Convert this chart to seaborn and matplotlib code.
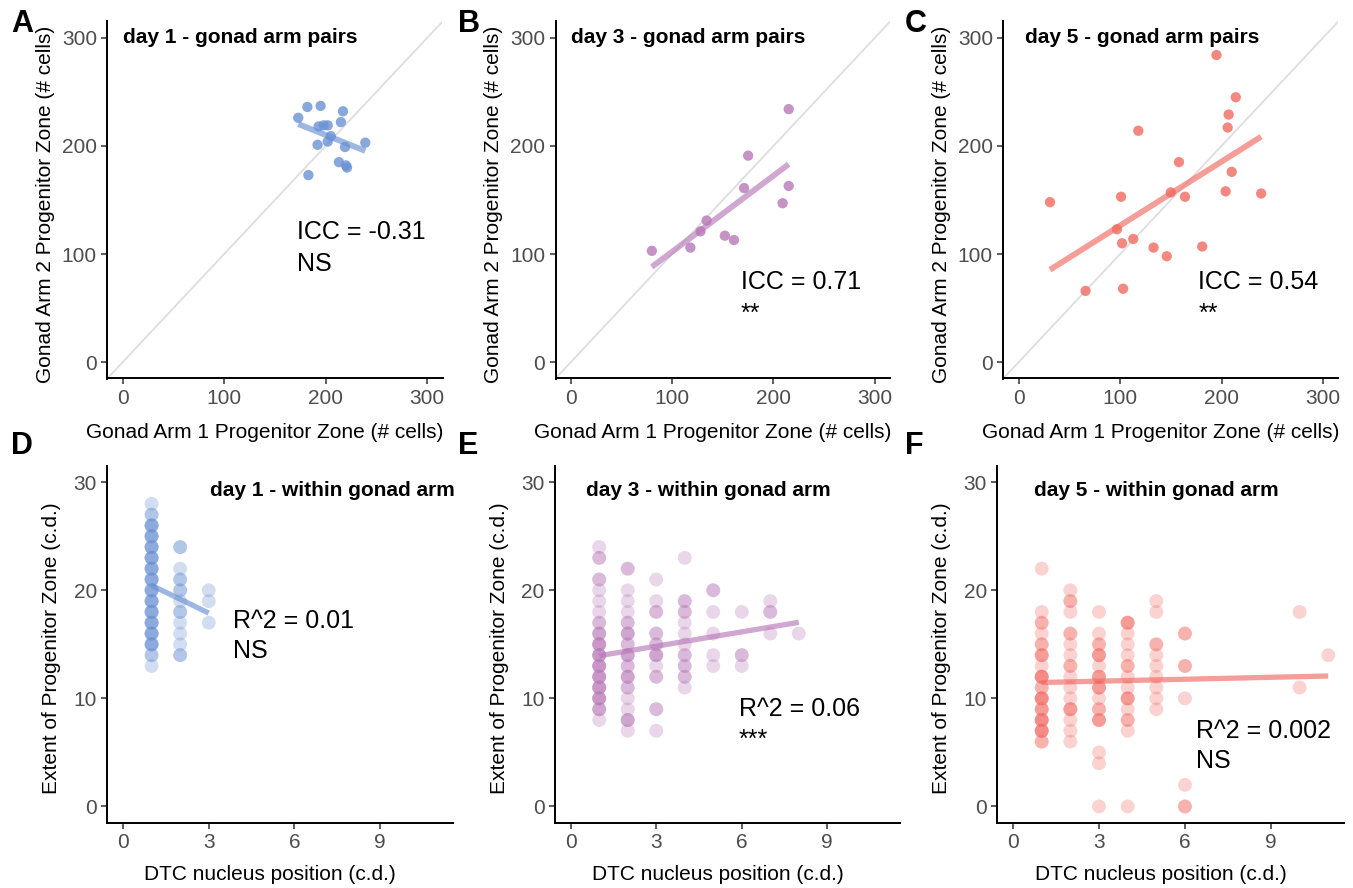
import numpy as np
import pandas as pd
import matplotlib
matplotlib.use("Agg")
import matplotlib.pyplot as plt
import seaborn as sns

sns.set_style("ticks")
plt.rcParams["font.family"] = ["Liberation Sans", "DejaVu Sans"]
plt.rcParams["text.color"] = "black"
plt.rcParams["axes.labelcolor"] = "black"

# ---- A-C: progenitor zone size, gonad arm 1 vs arm 2 (# cells)
d1_arm1 = [173, 182, 195, 217, 215, 193, 198, 202, 205, 192, 202, 219, 239, 213, 220, 221, 183]
d1_arm2 = [226, 236, 237, 232, 222, 218, 219, 219, 209, 201, 204, 199, 203, 185, 182, 180, 173]
d3_arm1 = [80, 118, 128, 134, 152, 161, 171, 175, 209, 215, 215]
d3_arm2 = [103, 106, 121, 131, 117, 113, 161, 191, 147, 163, 234]
d5_arm1 = [195, 214, 207, 206, 118, 158, 210, 31, 101, 150, 164, 204, 239, 97, 113, 102, 133, 146, 181, 66, 103]
d5_arm2 = [284, 245, 229, 217, 214, 185, 176, 148, 153, 157, 153, 158, 156, 123, 114, 110, 106, 98, 107, 66, 68]

# ---- D-F: DTC nucleus position vs extent of progenitor zone (c.d.), n = number of gonads
d1_pos = [1, 1, 1, 1, 1, 1, 1, 1, 1, 1, 1, 1, 1, 1, 1, 1,
          2, 2, 2, 2, 2, 2, 2, 2, 2, 2, 3, 3, 3]
d1_pz = [28, 27, 26, 25, 24, 23, 22, 21, 20, 19, 18, 17, 16, 15, 14, 13,
         24, 22, 21, 20, 19, 18, 17, 16, 15, 14, 20, 19, 17]
d1_n = [1, 2, 4, 4, 4, 4, 4, 4, 4, 4, 4, 4, 4, 4, 2, 1,
        2, 1, 2, 2, 1, 2, 1, 1, 1, 2, 1, 1, 1]

d3_pos = [1, 1, 1, 1, 1, 1, 1, 1, 1, 1, 1, 1, 1, 1, 1, 1,
          2, 2, 2, 2, 2, 2, 2, 2, 2, 2, 2, 2, 2, 2, 2,
          3, 3, 3, 3, 3, 3, 3, 3, 3, 3,
          4, 4, 4, 4, 4, 4, 4, 4, 4, 4,
          5, 5, 5, 5, 5, 6, 6, 6, 7, 7, 7, 8]
d3_pz = [24, 23, 21, 20, 19, 18, 17, 16, 15, 14, 13, 12, 11, 10, 9, 8,
         22, 20, 19, 18, 17, 16, 15, 14, 13, 12, 11, 10, 9, 8, 7,
         21, 19, 18, 16, 15, 14, 13, 12, 9, 7,
         23, 19, 18, 17, 16, 15, 14, 13, 12, 11,
         20, 18, 16, 14, 13, 18, 14, 13, 19, 18, 16, 16]
d3_n = [1, 2, 2, 1, 1, 1, 2, 3, 4, 4, 4, 4, 4, 4, 3, 1,
        2, 1, 1, 1, 2, 3, 2, 3, 2, 3, 2, 1, 1, 3, 1,
        1, 1, 2, 2, 2, 3, 1, 2, 2, 1,
        1, 2, 2, 1, 1, 1, 2, 2, 2, 1,
        2, 1, 1, 1, 1, 1, 2, 1, 1, 2, 1, 1]

d5_pos = [1, 1, 1, 1, 1, 1, 1, 1, 1, 1, 1, 1, 1, 1,
          2, 2, 2, 2, 2, 2, 2, 2, 2, 2, 2, 2, 2, 2,
          3, 3, 3, 3, 3, 3, 3, 3, 3, 3, 3, 3, 3,
          4, 4, 4, 4, 4, 4, 4, 4, 4, 4, 4, 4,
          5, 5, 5, 5, 5, 5, 5, 5, 5,
          6, 6, 6, 6, 6, 10, 10, 11]
d5_pz = [22, 18, 17, 16, 15, 14, 13, 12, 11, 10, 9, 8, 7, 6,
         20, 19, 18, 16, 15, 14, 13, 12, 11, 10, 9, 8, 7, 6,
         18, 16, 15, 14, 13, 12, 11, 10, 9, 8, 5, 4, 0,
         17, 16, 15, 14, 13, 12, 11, 10, 9, 8, 7, 0,
         19, 18, 15, 14, 13, 12, 11, 10, 9,
         16, 13, 10, 2, 0, 18, 11, 14]
d5_n = [1, 1, 2, 1, 2, 3, 1, 4, 2, 4, 3, 4, 4, 2,
        1, 2, 1, 2, 1, 1, 2, 1, 1, 1, 3, 1, 1, 1,
        1, 1, 2, 3, 1, 3, 3, 1, 2, 3, 1, 1, 1,
        3, 1, 1, 1, 2, 1, 1, 3, 1, 2, 1, 1,
        1, 1, 2, 1, 1, 1, 1, 1, 1,
        2, 2, 1, 1, 2, 1, 1, 1]

day_colors = ["#6A91D3", "#B878B8", "#F16A62"]

pair_titles = ["day 1 - gonad arm pairs", "day 3 - gonad arm pairs", "day 5 - gonad arm pairs"]
pair_stats = [("ICC = -0.31", "NS"), ("ICC = 0.71", "**"), ("ICC = 0.54", "**")]
arm_titles = ["day 1 - within gonad arm", "day 3 - within gonad arm", "day 5 - within gonad arm"]
arm_stats = [("R^2 = 0.01", "NS"), ("R^2 = 0.06", "***"), ("R^2 = 0.002", "NS")]

W, H = 1353, 888
fig = plt.figure(figsize=(W / 100, H / 100), dpi=100)


def box(l, r, t, b):
    return [l / W, 1 - b / H, (r - l) / W, (b - t) / H]


def style(ax, w_px, h_px):
    sns.despine(ax=ax)
    for s in ["left", "bottom"]:
        ax.spines[s].set_linewidth(1.4)
        ax.spines[s].set_color("black")
    ax.tick_params(length=4, width=1.1, color="#333333", labelcolor="#4D4D4D",
                   labelsize=15, pad=3.5)
    # axis titles sit a little left / lower than the panel centre
    ax.xaxis.label.set_x(0.5 - 10 / w_px)
    ax.yaxis.label.set_y(0.5 - 4 / h_px)


top_boxes = [box(107.3, 442.5, 21.5, 378.5), box(555.5, 890.1, 21.5, 378.5),
             box(1003.3, 1338.3, 21.5, 378.5)]
bot_boxes = [box(107.3, 453, 466, 822.7), box(555, 900, 466, 822.7),
             box(997.3, 1344, 466, 822.7)]

pairs = [(d1_arm1, d1_arm2), (d3_arm1, d3_arm2), (d5_arm1, d5_arm2)]
title_x = [0, 0, 6.6]
stat_x = [172, 168, 177]
stat_y = [114, 68, 68]

for i in range(3):
    ax = fig.add_axes(top_boxes[i])
    x, y = pairs[i]
    col = day_colors[i]
    ax.axline((0, 0), (1, 1), color="#DEDEDE", lw=1.3, zorder=0)
    sns.scatterplot(x=x, y=y, ax=ax, color=col, alpha=0.8, s=55, edgecolor="none", zorder=2)
    sns.regplot(x=x, y=y, ax=ax, scatter=False, ci=None, color=col,
                line_kws=dict(lw=4.2, alpha=0.65, solid_capstyle="butt", zorder=3))
    ax.set_xlim(-15, 315)
    ax.set_ylim(-15, 315)
    ax.set_xticks([0, 100, 200, 300])
    ax.set_yticks([0, 100, 200, 300])
    ax.set_xlabel("Gonad Arm 1 Progenitor Zone (# cells)", fontsize=15, labelpad=11)
    ax.set_ylabel("Gonad Arm 2 Progenitor Zone (# cells)", fontsize=15, labelpad=5)
    style(ax, 335, 357)
    ax.text(title_x[i], 300, pair_titles[i], fontsize=15, weight="bold", ha="left", va="center")
    ax.text(stat_x[i], stat_y[i], pair_stats[i][0], fontsize=18, ha="left", va="baseline")
    ax.text(stat_x[i], stat_y[i] - 30, pair_stats[i][1], fontsize=18, ha="left", va="baseline")

arms = [(d1_pos, d1_pz, d1_n), (d3_pos, d3_pz, d3_n), (d5_pos, d5_pz, d5_n)]
atitle_x = [3.05, 0.52, 0.72]
astat_x = [3.84, 5.9, 6.37]
astat_y = [16.55, 8.37, 6.37]

for i in range(3):
    ax = fig.add_axes(bot_boxes[i])
    pos, pz, n = arms[i]
    df = pd.DataFrame({"pos": np.repeat(pos, n), "pz": np.repeat(pz, n)})
    col = day_colors[i]
    sns.scatterplot(data=df, x="pos", y="pz", ax=ax, color=col, alpha=0.3, s=100,
                    edgecolor="none", zorder=2)
    sns.regplot(data=df, x="pos", y="pz", ax=ax, scatter=False, ci=None, color=col,
                line_kws=dict(lw=3.8, alpha=0.65, solid_capstyle="butt", zorder=3))
    ax.set_xlim(-0.55, 11.55)
    ax.set_ylim(-1.5, 31.5)
    ax.set_xticks([0, 3, 6, 9])
    ax.set_yticks([0, 10, 20, 30])
    ax.set_xlabel("DTC nucleus position (c.d.)", fontsize=15, labelpad=9)
    ax.set_ylabel("Extent of Progenitor Zone (c.d.)", fontsize=15, labelpad=9)
    style(ax, 346, 357)
    ax.text(atitle_x[i], 29.2, arm_titles[i], fontsize=15, weight="bold", ha="left", va="center")
    ax.text(astat_x[i], astat_y[i], arm_stats[i][0], fontsize=18, ha="left", va="baseline")
    ax.text(astat_x[i], astat_y[i] - 2.85, arm_stats[i][1], fontsize=18, ha="left", va="baseline")

letters = ["A", "B", "C", "D", "E", "F"]
letter_xy = [(22, 24), (469, 24), (916, 24), (22, 446), (468, 446), (914, 446)]
for lab, (px, py) in zip(letters, letter_xy):
    fig.text(px / W, 1 - py / H, lab, fontsize=22, weight="bold", ha="center", va="center")

fig.savefig("out.png", dpi=100)
